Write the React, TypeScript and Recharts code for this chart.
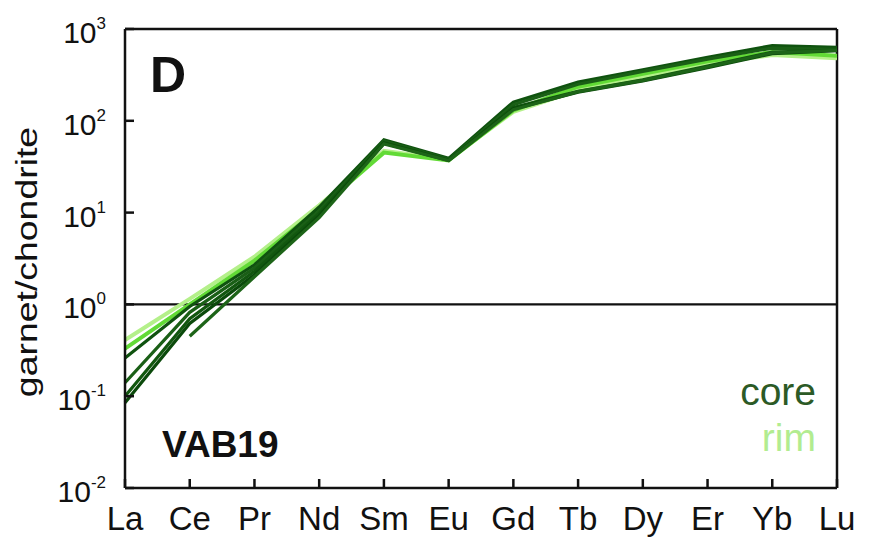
import React from 'react';
import { LineChart, Line, XAxis, YAxis, ReferenceLine } from 'recharts';

// REE sequence along the x axis
const elements = ['La', 'Ce', 'Pr', 'Nd', 'Sm', 'Eu', 'Gd', 'Tb', 'Dy', 'Er', 'Yb', 'Lu'];

// Chondrite-normalised garnet analyses, cores
const coreA = [0.26, 0.95, 2.7, 11.5, 62, 39, 160, 265, 360, 490, 660, 630];
const coreB = [0.14, 0.82, 2.5, 10.5, 60, 38, 150, 250, 345, 470, 620, 600];
const coreC = [0.1, 0.7, 2.3, 9.8, 58, 37.5, 140, 210, 280, 395, 560, 590];
const coreD = [0.085, 0.62, 2.1, 9.2, 57, 37, 135, 205, 272, 380, 540, 580];
const coreE = [null, 0.45, 2.0, 8.8, 56, 37, 132, 208, 276, 385, 550, 585];

// Chondrite-normalised garnet analyses, rims
const rimA = [0.41, 1.15, 3.3, 12, 47, 38, 125, 215, 300, 420, 520, 480];
const rimB = [0.33, 1.0, 3.0, 11, 45, 37, 130, 235, 325, 445, 560, 510];

// Logarithmic y ticks and their printed exponents
const yTicks = [0.01, 0.1, 1, 10, 100, 1000];
const yExponents = ['-2', '-1', '0', '1', '2', '3'];

const coreSeries = [
  { key: 'coreA', values: coreA, color: '#0f520f' },
  { key: 'coreB', values: coreB, color: '#1a5f16' },
  { key: 'coreC', values: coreC, color: '#12570f' },
  { key: 'coreD', values: coreD, color: '#0b4a0b' },
  { key: 'coreE', values: coreE, color: '#1d6418' },
];
const rimSeries = [
  { key: 'rimA', values: rimA, color: '#b4f08a' },
  { key: 'rimB', values: rimB, color: '#62da36' },
];

const data = elements.map((el, i) => {
  const row: Record<string, any> = { el };
  [...coreSeries, ...rimSeries].forEach((s) => {
    row[s.key] = s.values[i];
  });
  return row;
});

const FONT = '"Liberation Sans", Arial, Helvetica, sans-serif';
const INK = '#111';
const TICK_LEN = 9;

// Tick marks point into the plot: negative tickSize, label offset restored by tickMargin
const XTick = (props: any) => {
  const { x, y, payload } = props;
  return (
    <text x={x} y={y + 42} textAnchor="middle" fontSize={33} fill={INK} fontFamily={FONT}>
      {payload.value}
    </text>
  );
};

const YTick = (props: any) => {
  const { x, y, payload } = props;
  const exp = yExponents[yTicks.indexOf(payload.value)];
  return (
    <text x={x - 19} y={y + 14} textAnchor="end" fill={INK} fontFamily={FONT}>
      <tspan fontSize={30}>10</tspan>
      <tspan fontSize={17} dy={-14}>{exp}</tspan>
    </text>
  );
};

export default function App() {
  return (
    <div style={{ position: 'absolute', left: 0, top: 0, width: 873, height: 539, background: '#fff' }}>
      <LineChart width={873} height={539} data={data} margin={{ top: 29, right: 36, bottom: 0, left: 0 }}>
        <XAxis
          dataKey="el"
          height={51}
          tickSize={-TICK_LEN}
          tickMargin={TICK_LEN}
          tick={<XTick />}
          interval={0}
          axisLine={{ stroke: INK, strokeWidth: 2.5 }}
          tickLine={{ stroke: INK, strokeWidth: 2.5 }}
        />
        <YAxis
          type="number"
          scale="log"
          domain={[0.01, 1000]}
          ticks={yTicks}
          allowDataOverflow
          width={125}
          tickSize={-TICK_LEN}
          tickMargin={TICK_LEN}
          tick={<YTick />}
          interval={0}
          axisLine={{ stroke: INK, strokeWidth: 2.5 }}
          tickLine={{ stroke: INK, strokeWidth: 2.5 }}
        />
        <ReferenceLine y={1} stroke={INK} strokeWidth={2.2} />
        <ReferenceLine y={1000} stroke={INK} strokeWidth={2.5} />
        <ReferenceLine x="Lu" stroke={INK} strokeWidth={2.5} />
        {rimSeries.map((s) => (
          <Line
            key={s.key}
            dataKey={s.key}
            type="linear"
            stroke={s.color}
            strokeWidth={4}
            dot={false}
            isAnimationActive={false}
          />
        ))}
        {coreSeries.map((s) => (
          <Line
            key={s.key}
            dataKey={s.key}
            type="linear"
            stroke={s.color}
            strokeWidth={3.2}
            dot={false}
            isAnimationActive={false}
          />
        ))}
      </LineChart>
      <svg
        width={873}
        height={539}
        style={{ position: 'absolute', left: 0, top: 0, pointerEvents: 'none' }}
      >
        <text
          transform="translate(37,262) rotate(-90) scale(1.29,1)"
          textAnchor="middle"
          fontSize={29}
          fill={INK}
          fontFamily={FONT}
        >
          garnet/chondrite
        </text>
        <text x={150} y={92} fontSize={50} fontWeight="bold" fill={INK} fontFamily={FONT}>
          D
        </text>
        <text x={162} y={457} fontSize={37} fontWeight="bold" fill={INK} fontFamily={FONT}>
          VAB19
        </text>
        <text x={816} y={405} textAnchor="end" fontSize={39} fill="#2c5a26" fontFamily={FONT}>
          core
        </text>
        <text x={816} y={451} textAnchor="end" fontSize={39} fill="#b2ec90" fontFamily={FONT}>
          rim
        </text>
      </svg>
    </div>
  );
}
